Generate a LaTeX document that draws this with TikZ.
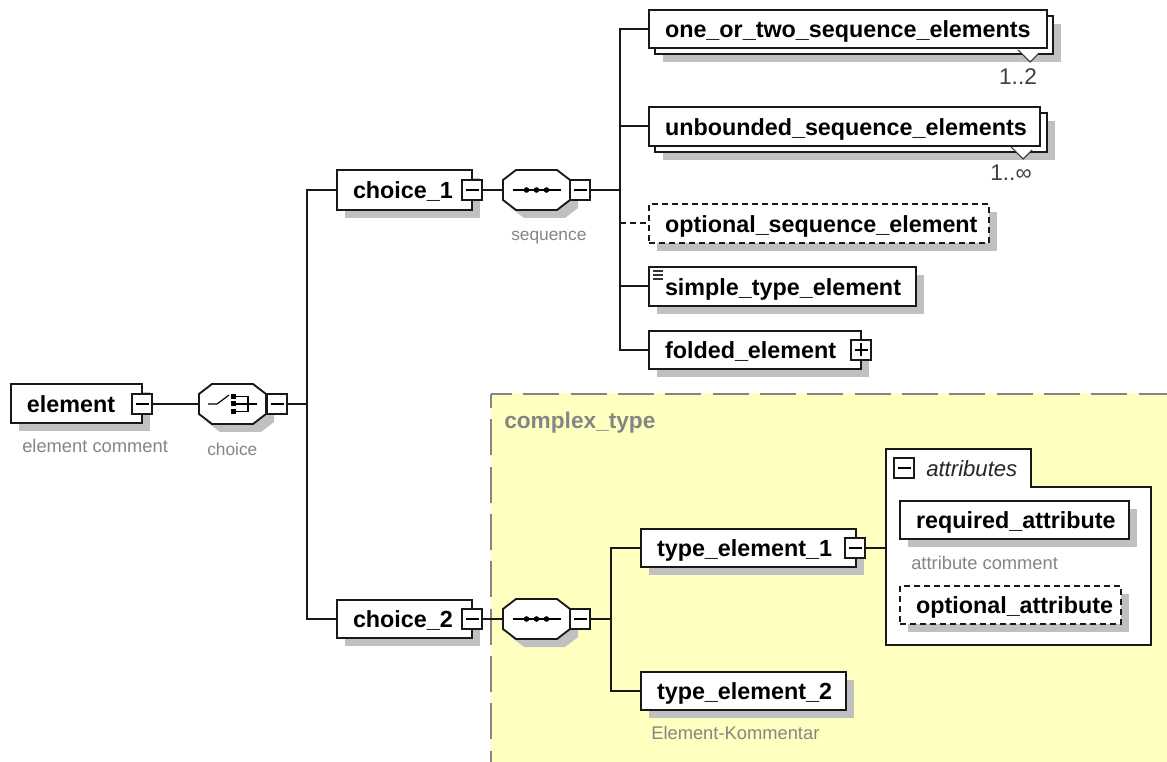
\documentclass[tikz,border=0pt]{standalone}
\usepackage{fontspec}
\setmainfont{Liberation Sans}
\definecolor{shadowc}{HTML}{C0C0C0}
\definecolor{yellowbg}{HTML}{FFFFC0}
\definecolor{commentc}{HTML}{858585}
\tikzset{
  line/.style={line width=1.4pt,draw=black!90},
  xsbox/.style={line,fill=white,inner sep=0pt,outer sep=0pt,rectangle},
  optbox/.style={dash pattern=on 4.5pt off 3pt},
  toggle/.style={line,fill=white,inner sep=0pt,outer sep=0pt,rectangle,minimum width=15pt,minimum height=15pt},
  octoanchor/.style={rectangle,inner sep=0pt,outer sep=0pt,minimum width=50.25pt,minimum height=29.5pt},
  comment/.style={text=commentc,font=\fontsize{13.75pt}{15pt}\selectfont,inner sep=0pt,anchor=west},
  commentsmall/.style={comment,font=\fontsize{13pt}{15pt}\selectfont},
  mult/.style={text=black!75,font=\fontsize{17pt}{19pt}\selectfont,inner sep=0pt},
  wire/.style={line width=1.5pt,black!90},
  glyph/.style={line width=.9pt,black},
  vee/.style={line width=.8pt,draw=black!80,fill=white},
  border/.style={line width=1.2pt,draw=commentc,dash pattern=on 27pt off 8.5pt},
}
\newcommand{\xsshadow}[4]{\fill[shadowc] ({#1+8},{#2+8}) rectangle ({#3+8},{#4+8});}
% name x1 y1 x2 y2 text options
\newcommand{\xsnode}[7]{%
  \pgfmathsetlengthmacro{\xsw}{(#4-#2)*0.75pt}%
  \pgfmathsetlengthmacro{\xsh}{(#5-#3)*0.75pt}%
  \node[xsbox,minimum height=\xsh,#7] (#1) at ({(#2+#4)/2},{(#3+#5)/2})
    {\makebox[\xsw][l]{\hspace{12pt}\fontsize{17.5pt}{20pt}\selectfont\bfseries\rule[-.2em]{0pt}{1.14em}#6}};}
\newcommand{\xstoggle}[4]{%
  \node[toggle] (#1) at (#2,#3) {};
  \draw[glyph] (#2-6.5,#3) -- (#2+6.5,#3);
  \ifx#4p\draw[glyph] (#2,#3-6.5) -- (#2,#3+6.5);\fi}
% octagon outline centred at a point
\newcommand{\xsoctopath}[2]{(#1-33.5,#2-10) -- (#1-20.5,#2-20) -- (#1+20.5,#2-20) -- (#1+33.5,#2-10) -- (#1+33.5,#2+10) -- (#1+20.5,#2+20) -- (#1-20.5,#2+20) -- (#1-33.5,#2+10) -- cycle}
\newcommand{\xsocto}[3]{%
  \fill[shadowc] \xsoctopath{#2+8}{#3+8};
  \draw[line,fill=white] \xsoctopath{#2}{#3};
  \node[octoanchor] (#1) at (#2,#3) {};}
\newcommand{\xsseq}[3]{%
  \xsocto{#1}{#2}{#3}
  \draw[glyph] (#2-24,#3) -- (#2+24,#3);
  \foreach \dx in {-10,0,10} \fill[black] (#2+\dx,#3) circle (2.1pt);}
\begin{document}
\begin{tikzpicture}[x=0.75pt,y=-0.75pt]
\useasboundingbox[fill=white] (0,0) rectangle (1167,762);

% yellow type area
\fill[yellowbg] (491,393.5) rectangle (1167,762);
\draw[border,dash phase=11.25pt] (491,394) -- (1167,394);
\draw[border,dash phase=16.5pt] (491,394) -- (491,762);
\node[anchor=west,inner sep=0pt,text=commentc,font=\fontsize{17pt}{20pt}\selectfont\bfseries] (ctlabel) at (504,423) {complex\_type};

% root
\xsshadow{11}{384}{142}{423}
\xsnode{element}{11}{384}{142}{423}{element}{}
\xstoggle{elementT}{142}{404}{m}
\node[comment] (elementC) at (22,446) {element comment};

% choice compositor
\xsocto{choice}{232.5}{404}
\draw[glyph] (208,404) -- (217,404) -- (229,395);
\foreach \yy in {396.5,404,411.5} \fill[black] (230.5,\yy-2.5) rectangle (235.5,\yy+2.5);
\draw[glyph] (236,396.5) -- (248,396.5) -- (248,411.5) -- (236,411.5);
\draw[glyph] (236,404) -- (257,404);
\xstoggle{choiceT}{277}{404}{m}
\node[commentsmall] (choiceC) at (207,449) {choice};

% choice_1
\xsshadow{337}{170}{472}{210}
\xsnode{choiceA}{337}{170}{472}{210}{choice\_1}{}
\xstoggle{choiceAT}{472}{190}{m}
\xsseq{seqA}{536.5}{190}
\xstoggle{seqAT}{580}{190}{m}
\node[commentsmall] (seqAC) at (511,238) {sequence};

% sequence 1 children
\xsshadow{655}{16}{1053}{54}
\xsnode{oneB}{655}{16}{1053}{54}{}{}
\draw[vee] (1018,50) -- (1030,62) -- (1039,53);
\xsnode{one}{649}{10}{1047}{48}{one\_or\_two\_sequence\_elements}{}
\node[mult] (oneM) at (1018,77) {1..2};

\xsshadow{655}{113}{1047}{152}
\xsnode{unbB}{655}{113}{1047}{152}{}{}
\draw[vee] (1011,147) -- (1023,159) -- (1032,150);
\xsnode{unb}{649}{107}{1040}{146}{unbounded\_sequence\_elements}{}
\node[mult] (unbM) at (1011,173) {1..∞};

\xsshadow{649}{204}{989}{243}
\xsnode{opt}{649}{204}{989}{243}{optional\_sequence\_element}{optbox}

\xsshadow{649}{267}{916}{306}
\xsnode{simple}{649}{267}{916}{306}{simple\_type\_element}{}
\foreach \yy in {271,275,279} \draw[line width=.8pt,black!80] (653,\yy) -- (663,\yy);

\xsshadow{649}{331}{861}{369}
\xsnode{folded}{649}{331}{861}{369}{folded\_element}{}
\xstoggle{foldedT}{861}{350}{p}

% choice_2
\xsshadow{337}{600}{472}{638}
\xsnode{choiceB}{337}{600}{472}{638}{choice\_2}{}
\xstoggle{choiceBT}{472}{619}{m}
\xsseq{seqB}{536.5}{619}
\xstoggle{seqBT}{580}{619}{m}

% type elements
\xsshadow{641}{529}{856}{567}
\xsnode{typeA}{641}{529}{856}{567}{type\_element\_1}{}
\xstoggle{typeAT}{855}{548}{m}
\xsshadow{641}{672}{846}{710}
\xsnode{typeB}{641}{672}{846}{710}{type\_element\_2}{}
\node[comment] (typeBC) at (651,733) {Element-Kommentar};

% attributes
\draw[line,fill=white] (886,449) -- (1031,449) -- (1031,487) -- (1151,487) -- (1151,645) -- (886,645) -- cycle;
\coordinate (attrIn) at (886,548);
\xstoggle{attrT}{904}{468}{m}
\node[anchor=west,inner sep=0pt,font=\fontsize{16.6pt}{19pt}\selectfont\itshape,text=black!85] (attrL) at (926,469) {attributes};
\xsshadow{900}{501}{1129}{539}
\xsnode{reqA}{900}{501}{1129}{539}{required\_attribute}{}
\node[comment] (reqC) at (911,563) {attribute comment};
\xsshadow{900}{586}{1121}{624}
\xsnode{optA}{900}{586}{1121}{624}{optional\_attribute}{optbox}

% connectors
\coordinate (busRoot) at (307,404);
\coordinate (busA) at (620,190);
\coordinate (busB) at (611,619);
\draw[wire] (elementT.east) -- (choice.west);
\draw[wire] (choiceT.east) -- (busRoot);
\draw[wire] (busRoot) |- (choiceA.west);
\draw[wire] (busRoot) |- (choiceB.west);
\draw[wire] (choiceAT.east) -- (seqA.west);
\draw[wire] (seqAT.east) -- (busA);
\draw[wire] (busA) |- (one.west);
\draw[wire] (busA) |- (unb.west);
\draw[wire] (busA) |- (simple.west);
\draw[wire] (busA) |- (folded.west);
\draw[wire,dash pattern=on 4.5pt off 3pt] (busA |- opt.west) -- (opt.west);
\draw[wire] (choiceBT.east) -- (seqB.west);
\draw[wire] (seqBT.east) -- (busB);
\draw[wire] (busB) |- (typeA.west);
\draw[wire] (busB) |- (typeB.west);
\draw[wire] (typeAT.east) -- (attrIn);
\end{tikzpicture}
\end{document}
